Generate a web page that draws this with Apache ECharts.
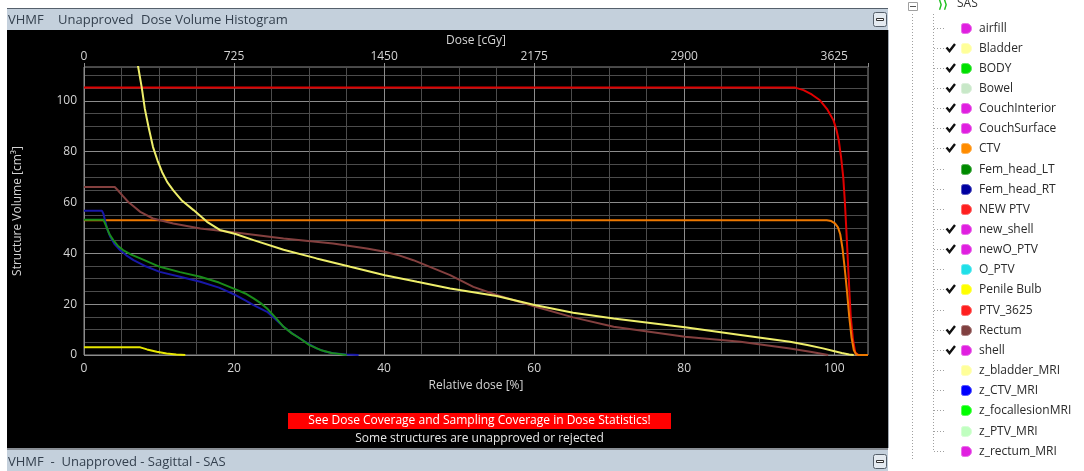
<!DOCTYPE html>
<html>
<head>
<meta charset="utf-8">
<title>Dose Volume Histogram</title>
<script src="https://cdn.jsdelivr.net/npm/echarts@6/dist/echarts.min.js"></script>
<style>
  html, body { margin: 0; padding: 0; background: #fff; }
  #chart { width: 1084px; height: 471px; }
</style>
</head>
<body>
<div id="chart"></div>
<script>
// relative dose [%] / volume [cm3]
const ptvX = [0, 94.8, 95.9, 97.0, 98.1, 99.1, 99.9, 100.3, 100.6, 100.9, 101.2, 101.4, 101.6, 101.8, 102.0, 102.2, 102.5, 102.8, 103.2];
const ptvV = [105.2, 105.2, 104.2, 102.5, 100.2, 96.5, 92.3, 88.5, 84.5, 78, 70, 61, 50, 38, 26, 15, 6, 1, 0];

const ctvX = [0, 99.0, 99.6, 100.1, 100.5, 100.8, 101.1, 101.4, 101.7, 102.0, 102.3, 102.6, 102.9, 103.2, 104.5];
const ctvV = [53.0, 53.0, 52.7, 51.8, 50.2, 47.5, 42, 34, 25, 15, 7, 2, 0.3, 0, 0];

const femRtX = [0, 2.4, 2.6, 2.8, 3.1, 3.5, 4.1, 4.8, 5.6, 6.6, 8.3, 10.1, 12.8, 15.5, 18.0, 20.2, 21.5, 22.6, 24.4, 25.5, 26.6, 27.7, 28.8, 30.0, 31.0, 32.0, 33.2, 35.0, 36.6];
const femRtV = [56.7, 56.7, 55.5, 53, 49.5, 46.5, 43.5, 41.3, 39.3, 37.3, 34.8, 32.7, 30.8, 28.8, 26.5, 23.6, 21.5, 19.6, 17.0, 14.2, 11.1, 8.6, 6.5, 4.3, 2.6, 1.5, 0.7, 0.2, 0];

const femLtX = [0, 2.6, 2.8, 3.0, 3.4, 3.9, 4.5, 5.2, 6.3, 7.5, 10.1, 12.8, 15.5, 18.0, 20.2, 21.5, 22.6, 23.5, 24.4, 25.5, 26.6, 27.7, 28.8, 30.0, 31.5, 33.0, 35.0];
const femLtV = [53.2, 53.2, 52.5, 50.4, 47.5, 45.2, 43.0, 41.3, 39.5, 38.0, 34.7, 32.6, 30.8, 28.5, 25.8, 24.2, 22.3, 20.5, 18.3, 14.8, 11.1, 8.5, 6.5, 4.0, 2.0, 0.8, 0];

const rectumX = [0, 4.1, 4.6, 5.2, 5.9, 6.6, 7.5, 9.2, 11.9, 15.5, 20.2, 26.6, 33.2, 37.7, 40.1, 42.0, 43.9, 46.6, 48.8, 51.9, 55.0, 60.2, 65.2, 70.6, 80.1, 87.5, 94.1, 97.0, 99.2];
const rectumV = [66.1, 66.1, 64.5, 62.5, 60.2, 58.5, 56.3, 53.7, 51.7, 49.8, 48.2, 45.8, 43.9, 41.9, 40.6, 39.2, 37.3, 34.1, 31.4, 26.8, 23.6, 19.0, 14.8, 11.1, 7.2, 5.2, 2.6, 1.2, 0];

const bladderX = [7.05, 7.24, 7.7, 8.1, 8.6, 9.2, 9.8, 10.4, 11.1, 11.9, 13.0, 14.6, 16.4, 18.1, 20.2, 22.6, 26.6, 31.0, 35.5, 40.1, 44.4, 48.8, 55.0, 60.2, 65.2, 70.6, 80.1, 87.5, 94.1, 96.4, 98.5, 99.9, 101.0, 102.0, 102.6];
const bladderV = [116, 113, 105.2, 97, 89.7, 81.8, 76.5, 72, 68, 64.8, 60.9, 57, 52.4, 49.2, 47.6, 45.2, 41.4, 38, 34.7, 31.4, 28.8, 26.2, 23.2, 19.6, 16.6, 14.4, 10.9, 7.9, 5.2, 3.9, 2.6, 1.6, 0.8, 0.2, 0];

const bulbX = [0, 7.5, 8.4, 9.7, 11.0, 12.3, 13.5];
const bulbV = [3.0, 3.0, 2.2, 1.3, 0.6, 0.2, 0];

// structure list on the right
const structNames = ['airfill', 'Bladder', 'BODY', 'Bowel', 'CouchInterior', 'CouchSurface', 'CTV',
  'Fem_head_LT', 'Fem_head_RT', 'NEW PTV', 'new_shell', 'newO_PTV', 'O_PTV', 'Penile Bulb', 'PTV_3625',
  'Rectum', 'shell', 'z_bladder_MRI', 'z_CTV_MRI', 'z_focallesionMRI', 'z_PTV_MRI', 'z_rectum_MRI'];
const structColors = ['#e020e0', '#ffff99', '#00e000', '#c8e8c8', '#e020e0', '#e020e0', '#ff8c00',
  '#008a00', '#0000a0', '#ff2020', '#e020e0', '#e020e0', '#20e0e8', '#ffff00', '#ff2020',
  '#804040', '#e020e0', '#ffff99', '#0000ff', '#00ff00', '#c0ffc0', '#e020e0'];
const structChecked = [0, 1, 1, 1, 1, 1, 1, 0, 0, 0, 1, 1, 0, 1, 0, 1, 1, 0, 0, 0, 0, 0];

const zip = (xs, vs) => xs.map((x, i) => [x, vs[i]]);

const chart = echarts.init(document.getElementById('chart'));

// window frame
const elements = [
  { type: 'rect', z: -10, shape: { x: 7, y: 8, width: 881, height: 1 }, style: { fill: '#55606c' } },
  { type: 'rect', z: -10, shape: { x: 7, y: 9, width: 881, height: 21 }, style: { fill: '#c4d0dc' } },
  { type: 'rect', z: -10, shape: { x: 7, y: 30, width: 881, height: 418 }, style: { fill: '#000' } },
  { type: 'rect', z: -10, shape: { x: 888, y: 30, width: 1, height: 418 }, style: { fill: '#a0a8b0' } },
  { type: 'rect', z: -10, shape: { x: 7, y: 448, width: 881, height: 2 }, style: { fill: '#8a8f96' } },
  { type: 'rect', z: -10, shape: { x: 7, y: 450, width: 881, height: 21 }, style: { fill: '#c4d0dc' } },
  { type: 'text', style: { x: 8, y: 20, text: 'VHMF', fill: '#34404e', font: '13px "Open Sans"', verticalAlign: 'middle' } },
  { type: 'text', style: { x: 58, y: 20, text: 'Unapproved', fill: '#34404e', font: '13px "Open Sans"', verticalAlign: 'middle' } },
  { type: 'text', style: { x: 141, y: 20, text: 'Dose Volume Histogram', fill: '#34404e', font: '13px "Open Sans"', verticalAlign: 'middle' } },
  { type: 'text', style: { x: 8, y: 462, text: 'VHMF  -  Unapproved - Sagittal - SAS', fill: '#34404e', font: '13px "Open Sans"', verticalAlign: 'middle' } },
  { type: 'rect', shape: { x: 873.5, y: 12.5, width: 13, height: 14, r: 2 }, style: { fill: '#e4eaf0', stroke: '#56606b' } },
  { type: 'rect', shape: { x: 876.5, y: 18.5, width: 7, height: 2 }, style: { fill: '#fff', stroke: '#333' } },
  { type: 'rect', shape: { x: 873.5, y: 454.5, width: 13, height: 14, r: 2 }, style: { fill: '#e4eaf0', stroke: '#56606b' } },
  { type: 'rect', shape: { x: 876.5, y: 460.5, width: 7, height: 2 }, style: { fill: '#fff', stroke: '#333' } },
  { type: 'rect', shape: { x: 288, y: 413, width: 383, height: 16 }, style: { fill: '#ff0000' } },
  { type: 'text', style: { x: 479.5, y: 421, text: 'See Dose Coverage and Sampling Coverage in Dose Statistics!', fill: '#fff', font: '12px "Open Sans"', align: 'center', verticalAlign: 'middle' } },
  { type: 'text', style: { x: 479.5, y: 439, text: 'Some structures are unapproved or rejected', fill: '#e8e8e8', font: '12px "Open Sans"', align: 'center', verticalAlign: 'middle' } }
];

// structure tree
elements.push(
  { type: 'line', shape: { x1: 912.5, y1: 14, x2: 912.5, y2: 460 }, style: { stroke: '#a0a0a0', lineDash: [1, 2] } },
  { type: 'line', shape: { x1: 933.5, y1: 14, x2: 933.5, y2: 452 }, style: { stroke: '#a0a0a0', lineDash: [1, 2] } },
  { type: 'rect', shape: { x: 908.5, y: 2.5, width: 9, height: 8 }, style: { fill: '#fff', stroke: '#a0a0a0' } },
  { type: 'line', shape: { x1: 910, y1: 6.5, x2: 916, y2: 6.5 }, style: { stroke: '#555' } },
  { type: 'text', style: { x: 938, y: 5, text: '⟩⟩', fill: '#20c020', font: 'bold 11px "DejaVu Sans"', verticalAlign: 'middle' } },
  { type: 'text', style: { x: 957, y: 4, text: 'SAS', fill: '#333', font: '12px "Open Sans"', verticalAlign: 'middle' } }
);
structNames.forEach((name, i) => {
  const y = Math.round(27.5 + i * 20.15) + 0.5;
  elements.push({ type: 'line', shape: { x1: 934, y1: y, x2: 945, y2: y }, style: { stroke: '#a0a0a0', lineDash: [1, 2] } });
  if (structChecked[i]) {
    elements.push({ type: 'polyline', shape: { points: [[946.5, y - 1], [949.5, y + 2.5], [955, y - 4.5]] }, style: { stroke: '#111', lineWidth: 2.4, fill: null } });
  }
  elements.push({ type: 'rect', shape: { x: 961.5, y: y - 5, width: 10, height: 10, r: [2, 5, 5, 2] },
    style: { fill: structColors[i], stroke: echarts.color.lift(structColors[i], 0.35), lineWidth: 1 } });
  elements.push({ type: 'text', style: { x: 979, y: y, text: name, fill: '#2a2a2a', font: '12px "Open Sans"', verticalAlign: 'middle' } });
});

const majorMinor = ['#8c8c8c', '#4c4c4c', '#4c4c4c', '#4c4c4c'];
const line = (name, xs, vs, color) => ({
  name: name, type: 'line', xAxisIndex: 0, yAxisIndex: 0,
  data: zip(xs, vs), showSymbol: false, symbol: 'none',
  lineStyle: { color: color, width: 2 }, itemStyle: { color: color }
});

const option = {
  animation: false,
  textStyle: { fontFamily: 'Open Sans' },
  graphic: { elements: elements },
  grid: { left: 84, top: 67, width: 784, height: 288, show: true, borderColor: '#8c8c8c', borderWidth: 1, backgroundColor: 'transparent' },
  xAxis: [
    {
      type: 'value', position: 'bottom', min: 0, max: 104.5, interval: 5,
      name: 'Relative dose [%]', nameLocation: 'middle', nameGap: 21,
      nameTextStyle: { color: '#d4d4d4', fontSize: 12 },
      axisLine: { show: false }, axisTick: { show: false },
      axisLabel: { color: '#d4d4d4', fontSize: 12, margin: 8, formatter: v => (v % 20 === 0 ? v : '') },
      splitLine: { show: true, lineStyle: { color: majorMinor, width: 1 } }
    },
    {
      type: 'value', position: 'top', min: 0, max: 3788.1, interval: 725,
      name: 'Dose [cGy]', nameLocation: 'middle', nameGap: 17,
      nameTextStyle: { color: '#d4d4d4', fontSize: 12 },
      axisLine: { show: false },
      axisTick: { show: true, length: 4, lineStyle: { color: '#8c8c8c' } },
      axisLabel: { color: '#d4d4d4', fontSize: 12, margin: 4, formatter: v => (v % 725 === 0 ? v : '') },
      splitLine: { show: false }
    }
  ],
  yAxis: {
    type: 'value', min: 0, max: 113.3, interval: 5,
    name: 'Structure Volume [cm³]', nameLocation: 'middle', nameGap: 60,
    nameTextStyle: { color: '#d4d4d4', fontSize: 12 },
    axisLine: { show: false }, axisTick: { show: false },
    axisLabel: { color: '#d4d4d4', fontSize: 12, margin: 7, formatter: v => (v % 20 === 0 ? v : '') },
    splitLine: { show: true, lineStyle: { color: majorMinor, width: 1 } }
  },
  series: [
    line('PTV', ptvX, ptvV, '#e00000'),
    line('CTV', ctvX, ctvV, '#ee7800'),
    line('Fem_head_RT', femRtX, femRtV, '#1818a8'),
    line('Fem_head_LT', femLtX, femLtV, '#1a8c1a'),
    line('Rectum', rectumX, rectumV, '#84403f'),
    line('Bladder', bladderX, bladderV, '#eeee6a'),
    line('Penile Bulb', bulbX, bulbV, '#e6e600')
  ]
};
chart.setOption(option);
</script>
</body>
</html>
